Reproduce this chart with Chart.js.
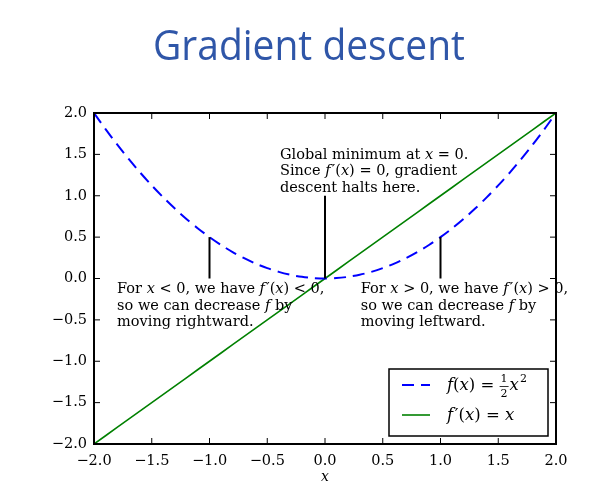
<!DOCTYPE html>
<html>
<head>
<meta charset="utf-8">
<script src="https://cdn.jsdelivr.net/npm/chart.js@4.4.1/dist/chart.umd.min.js"></script>
<style>
  body { margin: 0; background: #fff; }
</style>
</head>
<body>
<canvas id="chart" width="600" height="486"></canvas>
<script>
// values
const xs = [-2.0, -1.9, -1.8, -1.7, -1.6, -1.5, -1.4, -1.3, -1.2, -1.1, -1.0,
            -0.9, -0.8, -0.7, -0.6, -0.5, -0.4, -0.3, -0.2, -0.1, 0.0,
            0.1, 0.2, 0.3, 0.4, 0.5, 0.6, 0.7, 0.8, 0.9, 1.0,
            1.1, 1.2, 1.3, 1.4, 1.5, 1.6, 1.7, 1.8, 1.9, 2.0];
const fValues = [2.0, 1.805, 1.62, 1.445, 1.28, 1.125, 0.98, 0.845, 0.72, 0.605, 0.5,
                 0.405, 0.32, 0.245, 0.18, 0.125, 0.08, 0.045, 0.02, 0.005, 0.0,
                 0.005, 0.02, 0.045, 0.08, 0.125, 0.18, 0.245, 0.32, 0.405, 0.5,
                 0.605, 0.72, 0.845, 0.98, 1.125, 1.28, 1.445, 1.62, 1.805, 2.0];
const dfValues = [-2.0, -1.9, -1.8, -1.7, -1.6, -1.5, -1.4, -1.3, -1.2, -1.1, -1.0,
                  -0.9, -0.8, -0.7, -0.6, -0.5, -0.4, -0.3, -0.2, -0.1, 0.0,
                  0.1, 0.2, 0.3, 0.4, 0.5, 0.6, 0.7, 0.8, 0.9, 1.0,
                  1.1, 1.2, 1.3, 1.4, 1.5, 1.6, 1.7, 1.8, 1.9, 2.0];
const xTicks = [-2.0, -1.5, -1.0, -0.5, 0.0, 0.5, 1.0, 1.5, 2.0];
const yTicks = [-2.0, -1.5, -1.0, -0.5, 0.0, 0.5, 1.0, 1.5, 2.0];

// annotations: arrow from (x, from) to (x, to), text anchored at (tx, ty)
const notes = [
  { x: -1, from: 0.0, to: 0.5, tx: -1.8, ty: -0.18,
    lines: ['For *x* < 0, we have *f*\u200a′(*x*) < 0,', 'so we can decrease *f* by', 'moving rightward.'] },
  { x: 0, from: 1.0, to: 0.0, tx: -0.39, ty: 1.45,
    lines: ['Global minimum at *x* = 0.', 'Since *f*\u200a′(*x*) = 0, gradient', 'descent halts here.'] },
  { x: 1, from: 0.0, to: 0.5, tx: 0.31, ty: -0.18,
    lines: ['For *x* > 0, we have *f*\u200a′(*x*) > 0,', 'so we can decrease *f* by', 'moving leftward.'] }
];

const SERIF = '"DejaVu Serif", serif';

function fmt(v) {
  return (v < 0 ? '\u2212' : '') + Math.abs(v).toFixed(1);
}

// draws text where *...* parts are italic
function rich(ctx, str, x, y, size) {
  str.split('*').forEach((part, i) => {
    ctx.font = (i % 2 ? 'italic ' : '') + size + 'px ' + SERIF;
    ctx.fillText(part, x, y);
    x += ctx.measureText(part).width;
  });
  return x;
}

const decorations = {
  id: 'decorations',
  afterDatasetsDraw(chart) {
    const { ctx, chartArea: a, scales } = chart;
    const sx = scales.x, sy = scales.y;
    ctx.save();

    // arrows and notes
    ctx.strokeStyle = '#000';
    ctx.fillStyle = '#000';
    ctx.lineWidth = 2;
    notes.forEach(n => {
      const px = sx.getPixelForValue(n.x);
      ctx.beginPath();
      ctx.moveTo(px, sy.getPixelForValue(n.from));
      ctx.lineTo(px, sy.getPixelForValue(n.to));
      ctx.stroke();
      ctx.textBaseline = 'alphabetic';
      ctx.textAlign = 'left';
      const tx = sx.getPixelForValue(n.tx);
      const ty = sy.getPixelForValue(n.ty);
      n.lines.forEach((l, i) => rich(ctx, l, tx, ty + i * 16.5, 14.5));
    });

    // frame with inward ticks on all sides
    ctx.lineWidth = 2;
    ctx.strokeRect(a.left, a.top, a.right - a.left, a.bottom - a.top);
    ctx.lineWidth = 1;
    ctx.beginPath();
    xTicks.forEach(v => {
      const p = sx.getPixelForValue(v);
      ctx.moveTo(p, a.bottom); ctx.lineTo(p, a.bottom - 6);
      ctx.moveTo(p, a.top); ctx.lineTo(p, a.top + 6);
    });
    yTicks.forEach(v => {
      const p = sy.getPixelForValue(v);
      ctx.moveTo(a.left, p); ctx.lineTo(a.left + 6, p);
      ctx.moveTo(a.right, p); ctx.lineTo(a.right - 6, p);
    });
    ctx.stroke();

    // legend box
    const lx = 389, ly = 369, lw = 159, lh = 67;
    ctx.fillStyle = '#fff';
    ctx.fillRect(lx, ly, lw, lh);
    ctx.lineWidth = 1.5;
    ctx.strokeStyle = '#000';
    ctx.strokeRect(lx, ly, lw, lh);

    const ds = chart.data.datasets;
    const row1 = ly + 16, row2 = ly + 46;
    ctx.lineWidth = ds[0].borderWidth;
    ctx.strokeStyle = ds[0].borderColor;
    ctx.setLineDash(ds[0].borderDash);
    ctx.beginPath(); ctx.moveTo(402, row1); ctx.lineTo(430, row1); ctx.stroke();
    ctx.setLineDash([]);
    ctx.lineWidth = ds[1].borderWidth;
    ctx.strokeStyle = ds[1].borderColor;
    ctx.beginPath(); ctx.moveTo(402, row2); ctx.lineTo(430, row2); ctx.stroke();

    ctx.fillStyle = '#000';
    ctx.strokeStyle = '#000';
    ctx.textBaseline = 'middle';
    let x = rich(ctx, '*f*(*x*) = ', 447, row1 + 1, 16.5);
    // fraction 1/2
    ctx.font = '11px ' + SERIF;
    ctx.textAlign = 'center';
    const fw = ctx.measureText('2').width + 2;
    ctx.fillText('1', x + fw / 2, row1 - 6);
    ctx.fillText('2', x + fw / 2, row1 + 9);
    ctx.lineWidth = 0.8;
    ctx.beginPath(); ctx.moveTo(x, row1 + 1.5); ctx.lineTo(x + fw, row1 + 1.5); ctx.stroke();
    ctx.textAlign = 'left';
    x = rich(ctx, '*x*', x + fw + 1, row1 + 1, 16.5);
    ctx.font = '11px ' + SERIF;
    ctx.fillText('2', x + 1, row1 - 6);
    rich(ctx, '*f*\u200a′(*x*) = *x*', 447, row2 + 1, 16.5);

    // axis label
    ctx.textAlign = 'center';
    ctx.font = 'italic 14px ' + SERIF;
    ctx.fillText('x', (a.left + a.right) / 2, 477);

    // slide title
    ctx.fillStyle = '#2f56a8';
    ctx.font = '42px "Open Sans", sans-serif';
    ctx.textBaseline = 'alphabetic';
    const w = ctx.measureText('Gradient descent').width;
    ctx.translate(309, 60);
    ctx.scale(312 / w, 1);
    ctx.fillText('Gradient descent', 0, 0);
    ctx.restore();
  }
};

const tickFont = { family: SERIF, size: 14.5 };

new Chart(document.getElementById('chart'), {
  type: 'line',
  data: {
    datasets: [
      { label: 'f(x) = x²/2', data: xs.map((x, i) => ({ x, y: fValues[i] })),
        borderColor: '#0000ff', borderWidth: 2, borderDash: [12, 7],
        pointRadius: 0, tension: 0.3, fill: false },
      { label: "f'(x) = x", data: xs.map((x, i) => ({ x, y: dfValues[i] })),
        borderColor: '#008000', borderWidth: 1.6,
        pointRadius: 0, fill: false }
    ]
  },
  options: {
    responsive: false,
    animation: false,
    layout: { padding: { top: 113, right: 44, left: 0, bottom: 0 } },
    plugins: { legend: { display: false }, tooltip: { enabled: false } },
    scales: {
      x: {
        type: 'linear', min: -2, max: 2,
        afterBuildTicks: s => { s.ticks = xTicks.map(v => ({ value: v })); },
        ticks: { callback: fmt, font: tickFont, color: '#000', padding: 9, maxRotation: 0 },
        grid: { display: false, drawTicks: false },
        border: { display: false },
        afterFit: s => { s.height = 42; }
      },
      y: {
        type: 'linear', min: -2, max: 2,
        afterBuildTicks: s => { s.ticks = yTicks.map(v => ({ value: v })); },
        ticks: { callback: fmt, font: tickFont, color: '#000', padding: 7 },
        grid: { display: false, drawTicks: false },
        border: { display: false },
        afterFit: s => { s.width = 94; }
      }
    }
  },
  plugins: [decorations]
});
</script>
</body>
</html>
